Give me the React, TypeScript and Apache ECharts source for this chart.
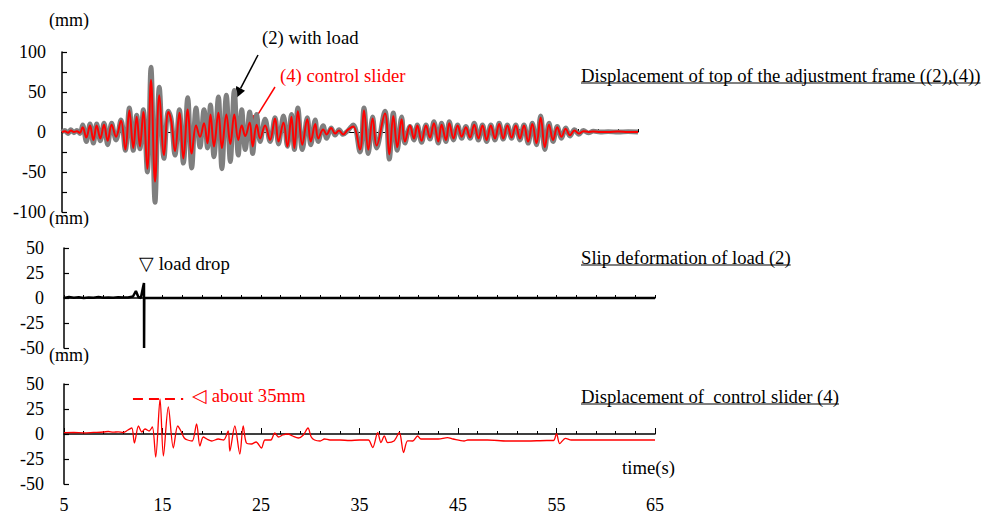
import React, { useEffect, useRef } from "react";
import * as echarts from "echarts";

// ---------- data ----------
const topTime = [5.0,5.3,5.6,5.9,6.2,6.5,6.8,7.08,7.45,7.82,8.16,8.49,8.86,9.23,9.6,10.0,10.44,10.94,11.38,11.78,12.18,12.52,12.85,13.19,13.59,13.96,14.37,14.8,15.27,15.71,16.0,16.38,16.82,17.22,17.66,18.06,18.5,18.9,19.3,19.65,19.95,20.3,20.75,21.1,21.55,21.95,22.35,22.75,23.1,23.45,23.9,24.2,24.6,24.95,25.45,25.95,26.45,26.8,27.3,27.7,28.1,28.4,28.75,29.2,29.7,30.05,30.5,30.8,31.3,31.65,32.1,32.5,32.9,33.3,33.8,34.33,35.0,35.41,35.84,36.28,36.68,37.52,37.96,38.36,38.76,39.2,39.53,40.04,40.44,40.78,41.21,41.65,42.05,42.45,42.89,43.22,43.66,44.0,44.42,44.84,45.25,45.67,46.09,46.51,46.93,47.34,47.76,48.18,48.6,49.02,49.43,49.85,50.27,50.69,51.11,51.52,51.94,52.36,52.78,53.2,53.62,54.04,54.45,54.87,55.3,55.72,56.15,56.6,57.05,57.5,58.0,58.5,59.2,60.0,61.0,62.0,63.0];
const withLoad = [0,2,-2,3,-1,2,-2,9,-12,10,-14,10,-11,11,-16,11,-10,15,-23,30,-23,21,-21,28,-50,81,-88,56,-33,26,16,-29,28,-39,43,-45,30,-19,28,-20,34,-31,44,-46,46,-37,52,-29,28,-22,25,-27,22,-12,16,-12,18,-15,20,-18,22,-22,30,-22,18,-16,15,-12,8,-8,5,-4,3,-3,2,9,-25,30,-27,19,-20,26,-34,24,-23,19,-14,7,-10,9,-13,9,-9,13,-14,11,-12,13,-10,9,-8,7,-8,11,-10,9,-12,9,-10,11,-9,9,-8,9,-10,9,-14,11,-16,20,-22,11,-12,7,-8,5,-5,3,-3,2,-1,1,0,0.5,0,0.5,0];
const controlSlider = [0,1,-1,2,0,1,-1,6,-7,8,-10,8,-8,9,-11,9,-6,14,-22,27,-20,19,-18,25,-46,65,-62,46,-29,25,14,-24,24,-33,28,-27,8,-6,11,-14,22,-18,24,-20,22,-15,22,-10,8,-5,12,-18,9,-8,8,-10,17,-12,12,-18,19,-20,26,-16,16,-12,10,-8,3,-3,5,-2,2,-3,3,7,-22,27,-22,17,-17,23,-28,20,-19,16,-12,8,-8,8,-11,8,-7,11,-12,9,-10,11,-8,8,-6,6,-7,9,-8,8,-10,8,-8,10,-8,8,-7,8,-8,8,-12,10,-14,18,-19,9,-10,6,-6,4,-4,2,-2,1,0,0.5,0,0,0.5,0,0];

const slipTime = [5,5.5,6,6.5,7,7.5,8,8.5,9,9.5,10,10.5,11,11.5,12,12.3,12.55,12.8,13.05,13.12,13.13,13.15,65];
const slipValue = [0,1,0.3,0.8,0,0.6,0.2,0.9,0.3,0.5,0.2,0.8,0.4,0.6,1.5,7,1,0,12,15,-50,0,0];

const ctrlTime = [5,6,7,8,9,9.5,10,10.5,11,11.5,11.88,12.15,12.56,12.9,13.23,13.64,13.97,14.31,14.75,15.09,15.59,16.1,16.54,16.87,17.21,17.55,18.02,18.46,18.8,19.14,19.5,20,20.66,21.2,21.67,21.84,22.34,22.85,23.19,23.52,24.03,24.5,25.04,25.4,26,26.39,26.8,27.2,27.74,28.2,28.8,29.3,29.77,30.1,30.44,31,31.45,32,33,34,35,35.9,36.34,36.85,37.18,37.52,37.86,38.5,39.04,39.48,39.88,40.4,40.9,41.23,42,43,43.93,44.5,45.62,46,48,50,52,54,54.7,55.0,55.33,55.91,56.5,58,60,62,65];
const ctrlValue = [1.3,1.5,1.2,1.6,2,2.5,1.8,2.2,1.5,4,6,-9,8,2,5,3,7,-23,35,-22,27,-14,8,3,-4,-6,-7,10,-12,-3,-5,-7,-5,-6,3,-17,8,-20,8,-9,-10,-8,-14,-6,-6,1,-3,-1,0,-2,-4,-1,6,-3,-6,-7,-5,-6,-6,-6.5,-6,-6,-13.6,1.3,-8.6,-2,-8.6,-7,1.5,-18.5,-6.9,-7,-2,-5,-5,-5,-3.6,-5,-7,-6,-6,-7,-7,-6.5,-6.5,0.3,-9.6,-4.3,-6,-6,-6,-6,-6];

const peakMarkTime = [12.0, 17.1];
const peakMarkValue = [35, 35];

const xTicksTop = { min: 5, max: 63, interval: 2 };
const xTicks = { min: 5, max: 65, interval: 2 };
const xLabelTicks = { min: 5, max: 65, interval: 10 };

// ---------- helpers ----------
const FONT = '"Liberation Serif", "Times New Roman", serif';
const FS = 18;
const FT = 18.7;
const zip = (xs: number[], ys: number[]) => xs.map((x, i) => [x, ys[i]]);

function measure(text: string, size: number): number {
  const ctx = document.createElement("canvas").getContext("2d");
  if (!ctx) return text.length * 8;
  ctx.font = `${size}px ${FONT}`;
  return ctx.measureText(text).width;
}

function txt(text: string, x: number, y: number, fill = "#000", size = FT) {
  return {
    type: "text",
    x,
    y,
    style: { text, fill, font: `${size}px ${FONT}`, textAlign: "left", textVerticalAlign: "middle" },
  };
}

export default function App() {
  const ref = useRef<HTMLDivElement>(null);
  useEffect(() => {
    if (!ref.current) return;
    const chart = echarts.init(ref.current, undefined, { renderer: "svg" });

    const yAxisBase = (gi: number, min: number, max: number, margin: number, every: number) => ({
      type: "value",
      gridIndex: gi,
      min,
      max,
      interval: 25,
      splitLine: { show: false },
      axisLine: { show: true, onZero: false, lineStyle: { color: "#000", width: 1.5 } },
      axisTick: { show: true, inside: true, length: 5, lineStyle: { color: "#000", width: 1.2 } },
      axisLabel: {
        margin,
        color: "#000",
        fontFamily: FONT,
        fontSize: FS,
        formatter: (v: number) => (Math.abs(v % every) < 1e-9 ? String(v) : ""),
      },
    });

    const xAxisBase = (gi: number, cfg: any, lw: number) => ({
      type: "value",
      gridIndex: gi,
      min: cfg.min,
      max: cfg.max,
      interval: cfg.interval,
      splitLine: { show: false },
      axisLine: { show: true, onZero: true, lineStyle: { color: "#000", width: lw } },
      axisTick: { show: true, inside: true, length: 3, lineStyle: { color: "#000", width: 1 } },
      axisLabel: { show: false },
    });

    const titles = [
      { text: "Displacement of top of the adjustment frame ((2),(4))", x: 581, y: 75 },
      { text: "Slip deformation of load (2)", x: 581, y: 257 },
      { text: "Displacement of  control slider (4)", x: 581, y: 396 },
    ];
    const graphics: any[] = [];
    titles.forEach((t) => {
      graphics.push(txt(t.text, t.x, t.y));
      const w = measure(t.text, FT);
      graphics.push({
        type: "line",
        shape: { x1: t.x, y1: t.y + 8, x2: t.x + w, y2: t.y + 8 },
        style: { stroke: "#000", lineWidth: 1.2 },
      });
    });
    graphics.push(txt("(mm)", 49, 20, "#000", FS));
    graphics.push(txt("(mm)", 49, 218, "#000", FS));
    graphics.push(txt("(mm)", 49, 355, "#000", FS));
    graphics.push(txt("(2) with load", 262, 37));
    graphics.push(txt("(4) control slider", 280, 75, "#ff0000"));
    graphics.push(txt("\u25BD load drop", 139, 263));
    graphics.push(txt("\u25C1 about 35mm", 192, 395, "#ff0000"));
    graphics.push(txt("time(s)", 622, 467));
    // arrows
    graphics.push({ type: "line", shape: { x1: 258, y1: 55, x2: 240.6, y2: 88.4 }, style: { stroke: "#000", lineWidth: 1.5 } });
    graphics.push({ type: "polygon", shape: { points: [[235, 99], [245, 90.7], [236.2, 86.1]] }, style: { fill: "#000" } });
    graphics.push({ type: "line", shape: { x1: 275, y1: 87, x2: 256.4, y2: 116.8 }, style: { stroke: "#ff0000", lineWidth: 1.5 } });
    graphics.push({ type: "polygon", shape: { points: [[250, 127], [260.2, 119.2], [252.6, 114.4]] }, style: { fill: "#ff0000" } });

    const bottomX: any = xAxisBase(2, xLabelTicks, 1.5);
    bottomX.axisTick = { show: true, inside: true, length: 6, lineStyle: { color: "#000", width: 1 } };
    bottomX.minorTick = { show: true, splitNumber: 5, length: 3, lineStyle: { color: "#000", width: 1 } };
    bottomX.axisLabel = { show: true, margin: 12, color: "#000", fontFamily: FONT, fontSize: FS };

    chart.setOption({
      animation: false,
      backgroundColor: "#fff",
      grid: [
        { left: 62, top: 52, width: 576, height: 160, outerBoundsMode: "none", containLabel: false },
        { left: 64, top: 248, width: 591, height: 100, outerBoundsMode: "none", containLabel: false },
        { left: 64, top: 384, width: 591, height: 100, outerBoundsMode: "none", containLabel: false },
      ],
      xAxis: [xAxisBase(0, xTicksTop, 1), xAxisBase(1, xTicks, 1.5), bottomX],
      yAxis: [
        yAxisBase(0, -100, 100, 16, 50),
        yAxisBase(1, -50, 50, 20, 25),
        yAxisBase(2, -50, 50, 20, 25),
      ],
      series: [
        {
          type: "line", xAxisIndex: 0, yAxisIndex: 0, data: zip(topTime, withLoad),
          smooth: 0.4, showSymbol: false, z: 2,
          lineStyle: { color: "#7f7f7f", width: 4.8 },
        },
        {
          type: "line", xAxisIndex: 0, yAxisIndex: 0, data: zip(topTime, controlSlider),
          smooth: 0.4, showSymbol: false, z: 3,
          lineStyle: { color: "#ff0000", width: 2 },
        },
        {
          type: "line", xAxisIndex: 1, yAxisIndex: 1, data: zip(slipTime, slipValue),
          showSymbol: false, z: 3,
          lineStyle: { color: "#000", width: 2.5 },
        },
        {
          type: "line", xAxisIndex: 2, yAxisIndex: 2, data: zip(ctrlTime, ctrlValue),
          smooth: 0.3, showSymbol: false, z: 3,
          lineStyle: { color: "#ff0000", width: 1.3 },
        },
        {
          type: "line", xAxisIndex: 2, yAxisIndex: 2, data: zip(peakMarkTime, peakMarkValue),
          showSymbol: false, z: 3,
          lineStyle: { color: "#ff0000", width: 2, type: [10, 6] },
        },
      ],
      graphic: graphics,
    });
    return () => chart.dispose();
  }, []);

  return <div ref={ref} style={{ position: "fixed", left: 0, top: 0, width: 984, height: 515, background: "#fff" }} />;
}
